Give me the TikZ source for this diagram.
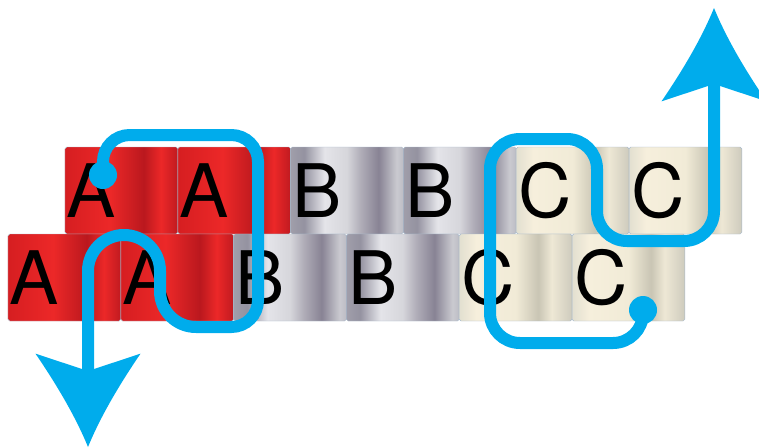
\documentclass[tikz,border=0pt]{standalone}
\usepackage{fontspec}
\setmainfont{TeX Gyre Heros}
\usepackage{xcolor}
\usetikzlibrary{arrows.meta, positioning}

\definecolor{flowblue}{RGB}{0,172,236}
\definecolor{tileedge}{RGB}{168,186,204}
% red tiles
\definecolor{redA}{RGB}{214,30,33}
\definecolor{redB}{RGB}{236,40,40}
\definecolor{redC}{RGB}{186,24,30}
\definecolor{redD}{RGB}{192,26,32}
% gray tiles
\definecolor{grayA}{RGB}{160,158,170}
\definecolor{grayB}{RGB}{148,146,160}
\definecolor{grayC}{RGB}{228,228,233}
\definecolor{grayD}{RGB}{214,214,219}
\definecolor{grayE}{RGB}{176,173,184}
\definecolor{grayF}{RGB}{136,131,148}
\definecolor{grayG}{RGB}{202,202,208}
\definecolor{grayH}{RGB}{188,188,196}
% cream tiles
\definecolor{creamA}{RGB}{226,223,208}
\definecolor{creamB}{RGB}{246,239,220}
\definecolor{creamC}{RGB}{241,235,215}
\definecolor{creamD}{RGB}{201,197,180}
\definecolor{creamE}{RGB}{238,232,213}
\definecolor{creamF}{RGB}{206,203,189}

\pgfdeclarehorizontalshading{redshade}{100bp}{color(0bp)=(redA); color(25bp)=(redA); color(45bp)=(redB); color(60bp)=(redC); color(67.5bp)=(redB); color(75bp)=(redD); color(100bp)=(redD)}
\pgfdeclarehorizontalshading{grayshade}{100bp}{color(0bp)=(grayA); color(25bp)=(grayA); color(31bp)=(grayB); color(40bp)=(grayC); color(50bp)=(grayD); color(56bp)=(grayE); color(64bp)=(grayF); color(72bp)=(grayG); color(75bp)=(grayH); color(100bp)=(grayH)}
\pgfdeclarehorizontalshading{creamshade}{100bp}{color(0bp)=(creamA); color(25bp)=(creamA); color(32.5bp)=(creamB); color(50bp)=(creamC); color(60bp)=(creamD); color(66bp)=(creamE); color(75bp)=(creamF); color(100bp)=(creamF)}

% arrow head with hollow (concave) flanks
\pgfdeclarearrow{
  name=Swoosh,
  parameters={\the\pgfarrowlength,\the\pgfarrowwidth,\the\pgfarrowinset},
  setup code={
    \pgfarrowssettipend{0pt}
    \pgfarrowssetlineend{-0.5\pgfarrowlength}
    \pgfarrowssetvisualbackend{-\pgfarrowlength}
    \pgfarrowssetbackend{-\pgfarrowlength}
    \pgfarrowshullpoint{0pt}{0pt}
    \pgfarrowsupperhullpoint{-\pgfarrowlength}{0.5\pgfarrowwidth}
    \pgfarrowssavethe\pgfarrowlength
    \pgfarrowssavethe\pgfarrowwidth
    \pgfarrowssavethe\pgfarrowinset
  },
  drawing code={
    \pgfpathmoveto{\pgfpoint{0pt}{0pt}}
    \pgfpathcurveto{\pgfpoint{-0.33\pgfarrowlength}{0.12\pgfarrowwidth}}{\pgfpoint{-0.67\pgfarrowlength}{0.3\pgfarrowwidth}}{\pgfpoint{-\pgfarrowlength}{0.5\pgfarrowwidth}}
    \pgfpathlineto{\pgfpoint{-\pgfarrowlength+\pgfarrowinset}{0pt}}
    \pgfpathlineto{\pgfpoint{-\pgfarrowlength}{-0.5\pgfarrowwidth}}
    \pgfpathcurveto{\pgfpoint{-0.67\pgfarrowlength}{-0.3\pgfarrowwidth}}{\pgfpoint{-0.33\pgfarrowlength}{-0.12\pgfarrowwidth}}{\pgfpoint{0pt}{0pt}}
    \pgfpathclose
    \pgfusepathqfill
  },
  defaults={length=2.8cm, width=3.15cm, inset=0.52cm}
}

\begin{document}
\begin{tikzpicture}[
    x=0.03cm, y=-0.03cm,
    tile/.style={
        draw=tileedge,
        line width=0.4pt,
        rounded corners=1.5pt,
        outer sep=0pt,
        inner xsep=0.06cm,
        inner ysep=0pt,
        minimum width=3.384cm,
        minimum height=2.61cm,
        text width=3.264cm,
        align=left,
        font=\fontsize{63}{63}\selectfont
    },
    redtile/.style={
        tile,
        shade,
        shading=redshade
    },
    graytile/.style={
        tile,
        shade,
        shading=grayshade
    },
    creamtile/.style={
        tile,
        shade,
        shading=creamshade
    },
    dot/.style={
        circle,
        fill=flowblue,
        minimum size=0.84cm,
        inner sep=0pt
    },
    flow/.style={
        draw=flowblue,
        line width=0.36cm,
        -{Swoosh[length=2.8cm, width=3.15cm, inset=0.52cm]}
    }
]
\useasboundingbox (0,0) rectangle (759,447);

% Top row
\node[redtile] (ta1) at (121.4,190.5) {A};
\node[redtile, right=0pt of ta1] (ta2) {A};
\node[graytile, right=0pt of ta2] (tb1) {B};
\node[graytile, right=0pt of tb1] (tb2) {B};
\node[creamtile, right=0pt of tb2] (tc1) {C};
\node[creamtile, right=0pt of tc1] (tc2) {C};

% Bottom row
\node[redtile] (ba1) at (64.4,277.5) {A};
\node[redtile, right=0pt of ba1] (ba2) {A};
\node[graytile, right=0pt of ba2] (bb1) {B};
\node[graytile, right=0pt of bb1] (bb2) {B};
\node[creamtile, right=0pt of bb2] (bc1) {C};
\node[creamtile, right=0pt of bc1] (bc2) {C};

% Paths
\node[dot] (start1) at (103,175) {};
\node[dot] (start2) at (643,310) {};
\coordinate (end1) at (88,447);
\coordinate (end2) at (714,8);

\draw[flow, rounded corners=0.8cm] (start1.center) -- (103,135) -- (258,135) -- (258,327) [rounded corners=1.08cm] -- (160,327) -- (160,235) -- (88,235) -- (end1);
\draw[flow, rounded corners=0.9cm] (start2.center) -- (643,343) -- (490,343) -- (490,139) -- (597,139) -- (597,241) -- (714,241) -- (end2);

\end{tikzpicture}
\end{document}
